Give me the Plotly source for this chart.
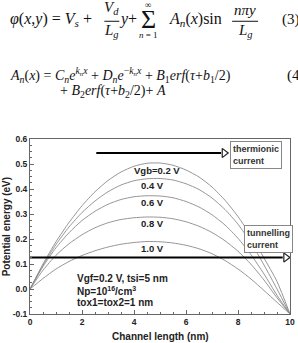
import plotly.graph_objects as go

# ---------------- data ----------------
channel_x = [0, 0.5, 1, 1.5, 2, 2.5, 3, 3.5, 4, 4.5, 5, 5.5, 6, 6.5, 7, 7.5, 8, 8.5, 9, 9.5, 10]
vgb_labels = ["Vgb=0.2 V", "0.4 V", "0.6 V", "0.8 V", "1.0 V"]
pe_vgb02 = [0, 0.100, 0.189, 0.266, 0.333, 0.389, 0.434, 0.468, 0.491, 0.503, 0.504,
            0.495, 0.476, 0.448, 0.408, 0.355, 0.290, 0.212, 0.124, 0.030, -0.100]
pe_vgb04 = [0, 0.095, 0.178, 0.248, 0.306, 0.352, 0.389, 0.416, 0.433, 0.441, 0.442,
            0.436, 0.421, 0.398, 0.364, 0.318, 0.259, 0.185, 0.096, 0.000, -0.100]
pe_vgb06 = [0, 0.090, 0.165, 0.225, 0.274, 0.311, 0.339, 0.358, 0.369, 0.373, 0.372,
            0.365, 0.350, 0.328, 0.297, 0.256, 0.203, 0.137, 0.060, -0.025, -0.100]
pe_vgb08 = [0, 0.075, 0.135, 0.181, 0.217, 0.245, 0.265, 0.278, 0.285, 0.288, 0.287,
            0.281, 0.269, 0.251, 0.226, 0.193, 0.151, 0.099, 0.036, -0.035, -0.100]
pe_vgb10 = [0, 0.042, 0.080, 0.110, 0.134, 0.153, 0.168, 0.179, 0.186, 0.190, 0.189,
            0.184, 0.175, 0.161, 0.141, 0.114, 0.080, 0.040, -0.006, -0.053, -0.100]
series = [pe_vgb02, pe_vgb04, pe_vgb06, pe_vgb08, pe_vgb10]
label_pos = [(4.88, 0.473), (4.71, 0.415), (4.71, 0.345), (4.71, 0.263), (4.71, 0.163)]

x_ticks = [0, 2, 4, 6, 8, 10]
y_ticks = [-0.1, 0.0, 0.1, 0.2, 0.3, 0.4, 0.5, 0.6]

thermionic_arrow = ([2.55, 7.35], 0.544)
tunnel_arrow = ([0.0, 9.72], 0.126)

# ---------------- layout geometry ----------------
W, H = 298, 343
ML, MR, MT, MB = 29.5, 8, 139, 28.6
PW, PH = W - ML - MR, H - MT - MB


def pp(px, py):
    """pixel -> paper coordinates"""
    return (px - ML) / PW, (H - MB - py) / PH


fig = go.Figure()
for ys in series:
    fig.add_trace(go.Scatter(x=channel_x, y=ys, mode="lines",
                             line=dict(color="#8a8a8a", width=0.9, shape="spline", smoothing=0.6),
                             hoverinfo="skip", showlegend=False))

# arrows
for (xs, yv) in (thermionic_arrow, tunnel_arrow):
    fig.add_trace(go.Scatter(x=xs, y=[yv, yv], mode="lines", line=dict(color="black", width=2.2),
                             showlegend=False, hoverinfo="skip"))
    fig.add_trace(go.Scatter(x=[xs[1] + 0.12], y=[yv], mode="markers",
                             marker=dict(symbol="triangle-right-open", size=8, color="#222", line=dict(width=1.2)),
                             showlegend=False, hoverinfo="skip"))

font_chart = "Liberation Sans"
ann = []
for lab, (lx, ly) in zip(vgb_labels, label_pos):
    ann.append(dict(x=lx, y=ly, xref="x", yref="y", text=lab, showarrow=False,
                    font=dict(family=font_chart, size=9.5, color="#222", weight="bold")))

ann.append(dict(x=8.69, y=0.537, xref="x", yref="y", text="thermionic<br>current", showarrow=False, align="left",
                font=dict(family=font_chart, size=9, color="#333", weight="bold"),
                bordercolor="#888", borderwidth=1, borderpad=2, bgcolor="white"))
ann.append(dict(x=9.17, y=0.2016, xref="x", yref="y", text="tunnelling<br>current", showarrow=False, align="left",
                font=dict(family=font_chart, size=9, color="#333", weight="bold"),
                bordercolor="#888", borderwidth=1, borderpad=2, bgcolor="white"))

info_lines = ["Vgf=0.2 V, tsi=5 nm", "Np=10<sup>16</sup>/cm<sup>3</sup>", "tox1=tox2=1 nm"]
for i, t in enumerate(info_lines):
    ann.append(dict(x=1.72, y=[0.044, -0.009, -0.055][i], xref="x", yref="y", text=t, showarrow=False,
                    xanchor="left", font=dict(family=font_chart, size=10, color="#222", weight="bold")))

# axis titles
tx, ty = pp(160, 337)
ann.append(dict(x=tx, y=ty, xref="paper", yref="paper", text="Channel length (nm)", showarrow=False,
                xanchor="center", yanchor="middle",
                font=dict(family=font_chart, size=10, color="#222", weight="bold")))
tx, ty = pp(6, 227)
ann.append(dict(x=tx, y=ty, xref="paper", yref="paper", text="Potential energy (eV)", showarrow=False,
                xanchor="center", yanchor="middle",
                textangle=-90, font=dict(family=font_chart, size=10, color="#222", weight="bold")))

# ---------------- equations ----------------
serif = "Liberation Serif"


def eq(px, py, text, size=14, xanchor="left"):
    x, y = pp(px, py)
    ann.append(dict(x=x, y=y, xref="paper", yref="paper", text=text, showarrow=False, xanchor=xanchor,
                    yanchor="middle", font=dict(family=serif, size=size, color="#111")))


eq(7, 19, "<i>φ</i>(<i>x</i>,<i>y</i>) = <i>V</i><sub><i>s</i></sub> +", 16)
eq(111.5, 8, "<i>V</i><sub><i>d</i></sub>", 15, "center")
eq(111.5, 31, "<i>L</i><sub><i>g</i></sub>", 15, "center")
eq(117, 19, "<i>y</i>+", 16)
eq(148, 19, "Σ", 26, "center")
eq(148, 5, "∞", 9, "center")
eq(148, 35, "<i>n</i> = 1", 9, "center")
eq(167, 19, "<i>A</i><sub><i>n</i></sub>(<i>x</i>)sin", 16)
eq(245, 10, "<i>nπy</i>", 15, "center")
eq(245, 31, "<i>L</i><sub><i>g</i></sub>", 15, "center")
eq(280, 19, "(3)", 15)

eq(7, 75, "<i>A</i><sub><i>n</i></sub>(<i>x</i>) = <i>C</i><sub><i>n</i></sub><i>e</i><sup><i>k<sub>n</sub>x</i></sup> + "
          "<i>D</i><sub><i>n</i></sub><i>e</i><sup>−<i>k<sub>n</sub>x</i></sup> + <i>B</i><sub>1</sub><i>erf</i>(<i>τ</i>+<i>b</i><sub>1</sub>/2)", 14)
eq(285, 75, "(4)", 15)
eq(58, 91, "+ <i>B</i><sub>2</sub><i>erf</i>(<i>τ</i>+<i>b</i><sub>2</sub>/2)+ <i>A</i>", 14)

shapes = []
for (x0, x1, yb) in ((104, 119, 21), (232, 258, 21)):
    a0, b0 = pp(x0, yb)
    a1, _ = pp(x1, yb)
    shapes.append(dict(type="line", xref="paper", yref="paper", x0=a0, x1=a1, y0=b0, y1=b0,
                       line=dict(color="#111", width=1)))

axis_common = dict(showgrid=False, zeroline=False, showline=True, linecolor="#666", linewidth=1, mirror=True,
                   ticks="inside", ticklen=4, tickcolor="#666", automargin=False,
                   tickfont=dict(family=font_chart, size=8.5, color="#222", weight="bold"))

fig.update_layout(
    width=W, height=H, margin=dict(l=ML, r=MR, t=MT, b=MB, autoexpand=False),
    paper_bgcolor="white", plot_bgcolor="white",
    xaxis=dict(range=[0, 10], tickvals=x_ticks, ticktext=[str(v) for v in x_ticks],
               minor=dict(dtick=0.5, ticks="inside", ticklen=2, tickcolor="#666"),
               **axis_common),
    yaxis=dict(range=[-0.1, 0.6], tickvals=y_ticks, ticktext=[f"{v:.1f}" for v in y_ticks],
               minor=dict(dtick=0.025, ticks="inside", ticklen=2, tickcolor="#666"),
               **axis_common),
    annotations=ann, shapes=shapes,
)

fig.write_html("out.html")
